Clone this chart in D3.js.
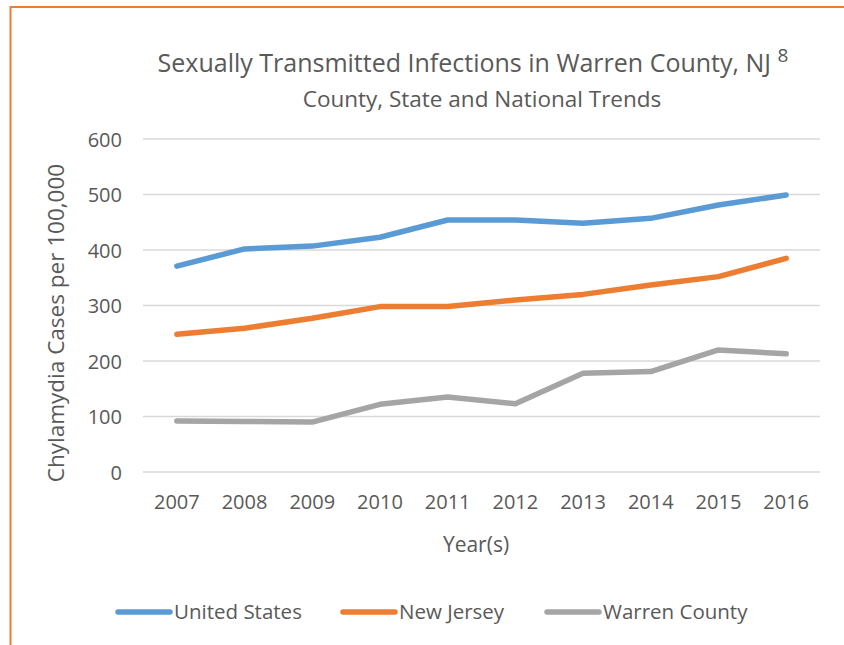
<!DOCTYPE html>
<html>
<head>
<meta charset="utf-8">
<script src="https://cdn.jsdelivr.net/npm/d3@7"></script>
<style>
  body { margin: 0; background: #fff; }
  svg text { font-family: "Open Sans", Lato, sans-serif; fill: #595959; }
</style>
</head>
<body>
<div id="chart"></div>
<script>
// Chart data
const years = ["2007", "2008", "2009", "2010", "2011", "2012", "2013", "2014", "2015", "2016"];
const unitedStates = [371, 402, 407, 423, 454, 454, 448, 457, 481, 499];
const newJersey = [248, 259, 277, 298, 298, 310, 320, 337, 352, 385];
const warrenCounty = [92, 91, 90, 122, 135, 123, 178, 181, 220, 213];
const yTicks = [0, 100, 200, 300, 400, 500, 600];

const series = [
  { name: "United States", values: unitedStates, color: "#5B9BD5" },
  { name: "New Jersey", values: newJersey, color: "#ED7D31" },
  { name: "Warren County", values: warrenCounty, color: "#A5A5A5" },
];

const width = 844;
const height = 645;
const margin = { top: 139, right: 24, bottom: 173, left: 143 };

const svg = d3
  .select("#chart")
  .append("svg")
  .attr("width", width)
  .attr("height", height);

// Orange frame
svg
  .append("rect")
  .attr("x", 10.5)
  .attr("y", 7)
  .attr("width", width + 20)
  .attr("height", height + 20)
  .attr("fill", "none")
  .attr("stroke", "#ED7D31")
  .attr("stroke-width", 2);

// Scales
const xScale = d3
  .scaleBand()
  .domain(years)
  .range([margin.left, width - margin.right]);

const yScale = d3
  .scaleLinear()
  .domain([0, 600])
  .range([height - margin.bottom, margin.top]);

// Gridlines
svg
  .append("g")
  .selectAll("line")
  .data(yTicks)
  .join("line")
  .attr("x1", margin.left)
  .attr("x2", width - margin.right)
  .attr("y1", (d) => yScale(d))
  .attr("y2", (d) => yScale(d))
  .attr("stroke", "#D9D9D9")
  .attr("stroke-width", 1.3);

// Y axis
const yAxis = svg
  .append("g")
  .attr("transform", `translate(${margin.left - 21}, 0)`)
  .call(d3.axisLeft(yScale).tickValues(yTicks).tickSize(0).tickPadding(0));
yAxis.select(".domain").remove();
yAxis.selectAll("text").attr("font-size", 20).attr("dy", "0.35em");

// X axis
const xAxis = svg
  .append("g")
  .attr("transform", `translate(0, ${height - margin.bottom})`)
  .call(d3.axisBottom(xScale).tickSize(0).tickPadding(0));
xAxis.select(".domain").remove();
xAxis.selectAll("text").attr("font-size", 20).attr("dy", null).attr("y", 37);

// Lines
const line = d3
  .line()
  .x((d, i) => xScale(years[i]) + xScale.bandwidth() / 2)
  .y((d) => yScale(d));

svg
  .append("g")
  .selectAll("path")
  .data(series)
  .join("path")
  .attr("fill", "none")
  .attr("stroke", (d) => d.color)
  .attr("stroke-width", 5.5)
  .attr("stroke-linecap", "round")
  .attr("stroke-linejoin", "round")
  .attr("d", (d) => line(d.values));

// Titles
const title = svg
  .append("text")
  .attr("x", 473)
  .attr("y", 72)
  .attr("text-anchor", "middle")
  .attr("font-size", 25);
title.append("tspan").text("Sexually Transmitted Infections in Warren County, NJ ");
title.append("tspan").attr("font-size", 19).attr("dy", -10).text("8");

svg
  .append("text")
  .attr("x", 482)
  .attr("y", 107)
  .attr("text-anchor", "middle")
  .attr("font-size", 22.5)
  .text("County, State and National Trends");

svg
  .append("text")
  .attr("x", 476)
  .attr("y", 552)
  .attr("text-anchor", "middle")
  .attr("font-size", 21)
  .text("Year(s)");

svg
  .append("text")
  .attr("transform", "translate(64, 323) rotate(-90)")
  .attr("text-anchor", "middle")
  .attr("font-size", 22.5)
  .text("Chylamydia Cases per 100,000");

// Legend
const legendX = [116, 341, 545];
const legend = svg
  .append("g")
  .selectAll("g")
  .data(series)
  .join("g")
  .attr("transform", (d, i) => `translate(${legendX[i]}, 612)`);

legend
  .append("line")
  .attr("x1", 2)
  .attr("x2", 54)
  .attr("stroke", (d) => d.color)
  .attr("stroke-width", 5.5)
  .attr("stroke-linecap", "round");

legend
  .append("text")
  .attr("x", 58)
  .attr("dy", "0.35em")
  .attr("font-size", 20.5)
  .text((d) => d.name);
</script>
</body>
</html>
